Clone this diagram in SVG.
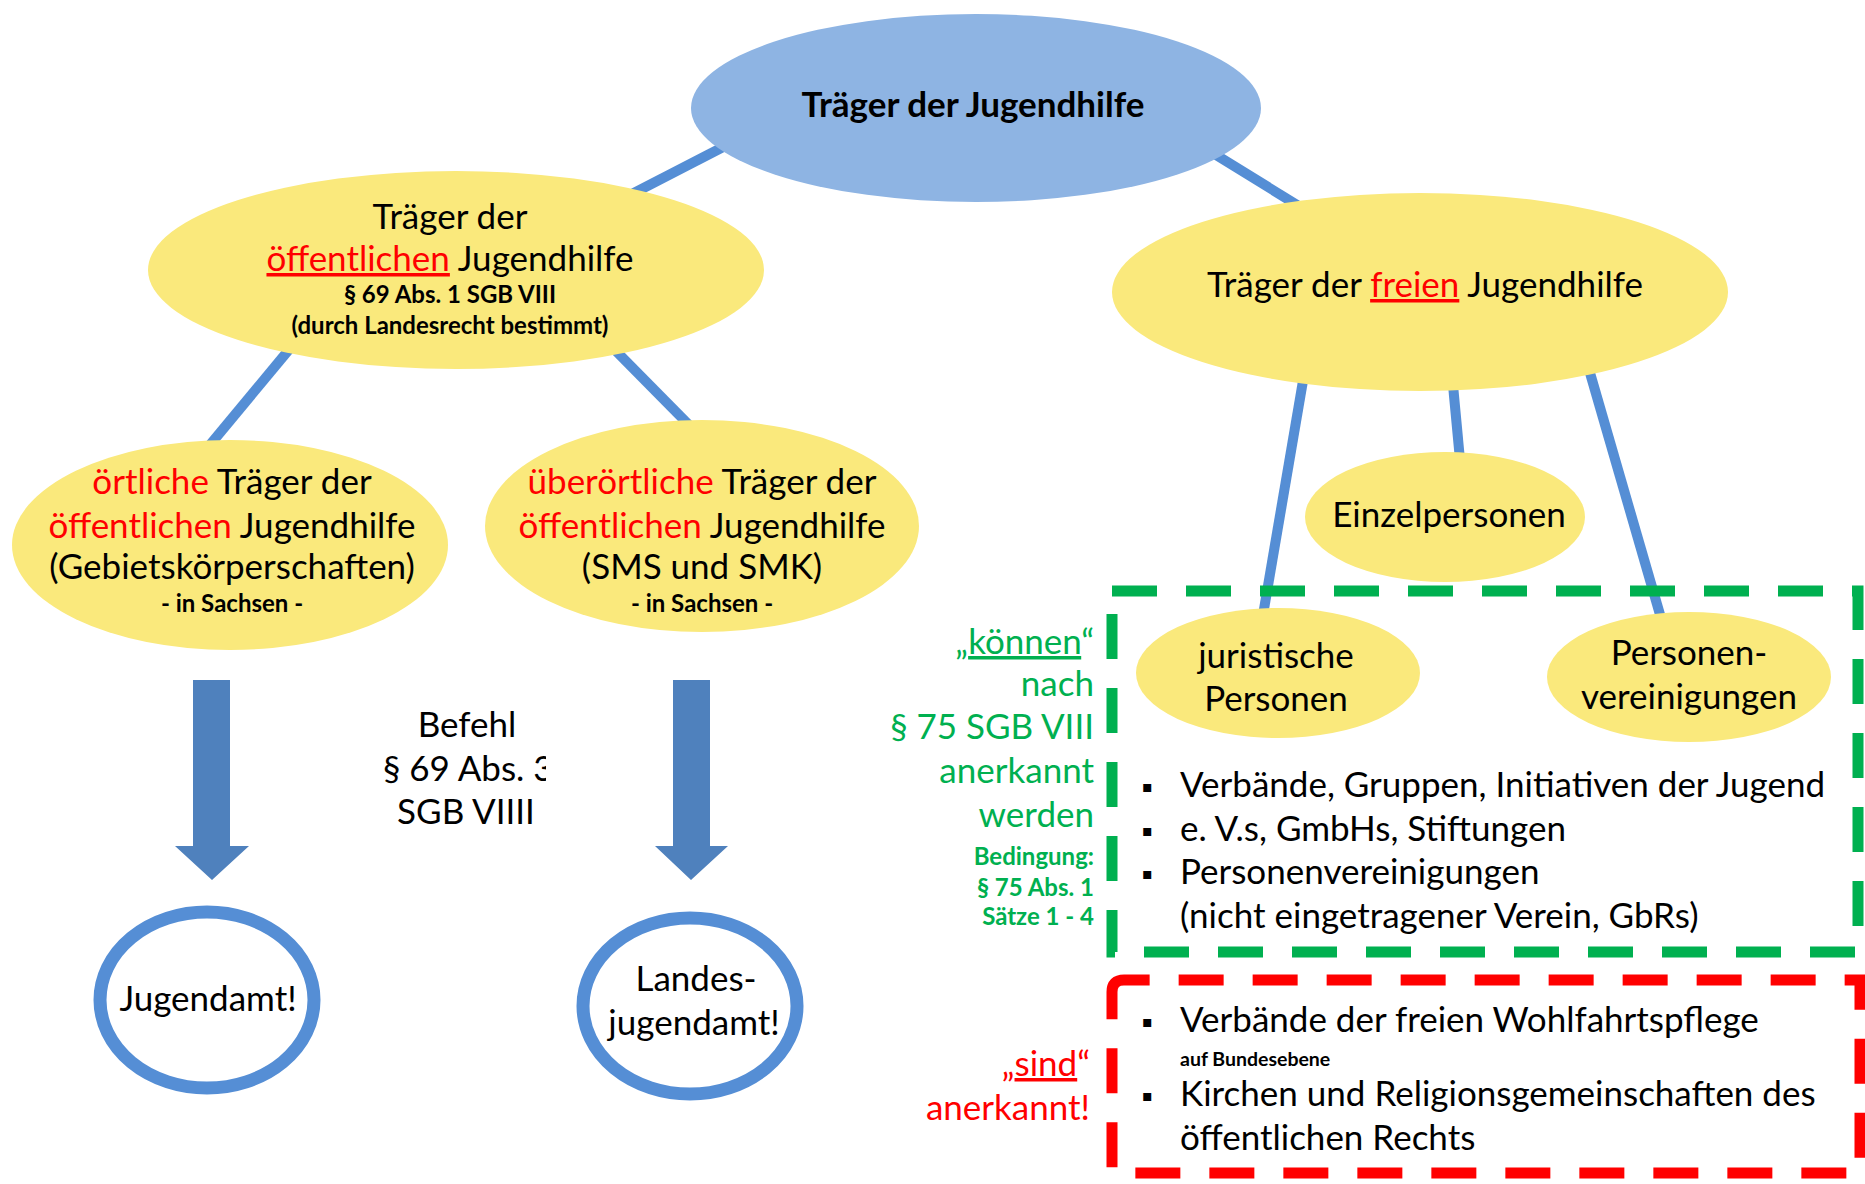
<svg xmlns="http://www.w3.org/2000/svg" width="1865" height="1184" viewBox="0 0 1865 1184">
<style>
text{font-family:Lato,"Liberation Sans",sans-serif;font-size:35px;fill:#000}
.c{text-anchor:middle}
.e{text-anchor:end}
.b{font-weight:bold}
.s{font-size:24px;font-weight:bold}
.r{fill:#FF0000}
.g{fill:#00B050}
.u{text-decoration:underline;text-decoration-thickness:4px}
.bul{font-family:"DejaVu Sans",sans-serif;font-size:16px}
.yel{fill:#FAE97C}
.con{stroke:#558ED5;stroke-width:10;fill:none}
.ring{fill:#FFFFFF;stroke:#558ED5;stroke-width:13}
.arrow{fill:#4F81BD}
.box{fill:none;stroke-width:11;stroke-dasharray:45 29}
</style>
<defs>
<clipPath id="clip3"><rect x="0" y="740" width="546" height="60"/></clipPath>
</defs>
<rect width="1865" height="1184" fill="#FFFFFF"/>

<g id="connectors">
<line class="con" x1="727" y1="145" x2="630" y2="195"/>
<line class="con" x1="1208" y1="150" x2="1302" y2="208"/>
<line class="con" x1="292" y1="346" x2="209" y2="446"/>
<line class="con" x1="612" y1="347" x2="692" y2="428"/>
<line class="con" x1="1304" y1="375" x2="1263" y2="615"/>
<line class="con" x1="1453" y1="385" x2="1460" y2="460"/>
<line class="con" x1="1588" y1="366" x2="1661" y2="618"/>
<polygon class="arrow" points="193,680 230,680 230,846 249,846 212,880 175,846 193,846"/>
<polygon class="arrow" points="673,680 710,680 710,846 728,846 691,880 655,846 673,846"/>
</g>

<g id="root">
<ellipse cx="976" cy="108" rx="285" ry="94" fill="#8EB4E3"/>
<text class="c b" x="973" y="117">Träger der Jugendhilfe</text>
</g>

<g id="oeffentlich">
<ellipse class="yel" cx="456" cy="270" rx="308" ry="99"/>
<text class="c" x="450" y="229">Träger der</text>
<text class="c" x="450" y="271"><tspan class="r u">öffentlichen</tspan> Jugendhilfe</text>
<text class="c s" x="450" y="303">§ 69 Abs. 1 SGB VIII</text>
<text class="c s" x="450" y="334">(durch Landesrecht bestimmt)</text>
</g>

<g id="frei">
<ellipse class="yel" cx="1420" cy="292" rx="308" ry="99"/>
<text class="c" x="1425" y="297">Träger der <tspan class="r u">freien</tspan> Jugendhilfe</text>
</g>

<g id="oertlich">
<ellipse class="yel" cx="230" cy="545" rx="218" ry="105"/>
<text class="c" x="232" y="494"><tspan class="r">örtliche</tspan> Träger der</text>
<text class="c" x="232" y="538"><tspan class="r">öffentlichen</tspan> Jugendhilfe</text>
<text class="c" x="232" y="579">(Gebietskörperschaften)</text>
<text class="c s" x="232" y="612">- in Sachsen -</text>
</g>

<g id="ueberoertlich">
<ellipse class="yel" cx="702" cy="526" rx="217" ry="106"/>
<text class="c" x="702" y="494"><tspan class="r">überörtliche</tspan> Träger der</text>
<text class="c" x="702" y="538"><tspan class="r">öffentlichen</tspan> Jugendhilfe</text>
<text class="c" x="702" y="579">(SMS und SMK)</text>
<text class="c s" x="702" y="612">- in Sachsen -</text>
</g>

<g id="einzelpersonen">
<ellipse class="yel" cx="1445" cy="517" rx="140" ry="65"/>
<text class="c" x="1449" y="527">Einzelpersonen</text>
</g>

<g id="juristische">
<ellipse class="yel" cx="1278" cy="673" rx="142" ry="65"/>
<text class="c" x="1276" y="668">juristische</text>
<text class="c" x="1276" y="711">Personen</text>
</g>

<g id="personenvereinigungen">
<ellipse class="yel" cx="1689" cy="677" rx="142" ry="65"/>
<text class="c" x="1689" y="665">Personen-</text>
<text class="c" x="1689" y="709">vereinigungen</text>
</g>

<g id="befehl">
<text class="c" x="467" y="737">Befehl</text>
<text x="383" y="781" clip-path="url(#clip3)">§ 69 Abs. 3</text>
<text class="c" x="466" y="824">SGB VIIII</text>
</g>

<g id="jugendamt">
<ellipse class="ring" cx="207" cy="1000" rx="107" ry="88"/>
<text class="c" x="208" y="1011">Jugendamt!</text>
</g>

<g id="landesjugendamt">
<ellipse class="ring" cx="690" cy="1006" rx="107" ry="88"/>
<text class="c" x="696" y="991">Landes-</text>
<text class="c" x="694" y="1035">jugendamt!</text>
</g>

<g id="koennen-box">
<path class="box" stroke="#00B050" d="M1112,591 H1858 V952 H1112 Z"/>
<text class="e g" x="1094" y="654">„<tspan class="u">können</tspan>“</text>
<text class="e g" x="1094" y="696">nach</text>
<text class="e g" x="1094" y="739">§ 75 SGB VIII</text>
<text class="e g" x="1094" y="783">anerkannt</text>
<text class="e g" x="1094" y="827">werden</text>
<text class="e g s" x="1094" y="865">Bedingung:</text>
<text class="e g s" x="1094" y="896">§ 75 Abs. 1</text>
<text class="e g s" x="1094" y="925">Sätze 1 - 4</text>
<text class="bul" x="1142" y="792">▪</text>
<text x="1180" y="797">Verbände, Gruppen, Initiativen der Jugend</text>
<text class="bul" x="1142" y="836">▪</text>
<text x="1180" y="841">e. V.s, GmbHs, Stiftungen</text>
<text class="bul" x="1142" y="879">▪</text>
<text x="1180" y="884">Personenvereinigungen</text>
<text x="1180" y="928">(nicht eingetragener Verein, GbRs)</text>
</g>

<g id="sind-box">
<path class="box" stroke="#FF0000" d="M1112,992 Q1112,980 1124,980 H1860 V1173 H1112 Z"/>
<text class="e r" x="1090" y="1076">„<tspan class="u">sind</tspan>“</text>
<text class="e r" x="1090" y="1120">anerkannt!</text>
<text class="bul" x="1142" y="1027">▪</text>
<text x="1180" y="1032">Verbände der freien Wohlfahrtspflege</text>
<text class="s" x="1180" y="1066" style="font-size:19.5px">auf Bundesebene</text>
<text class="bul" x="1142" y="1101">▪</text>
<text x="1180" y="1106">Kirchen und Religionsgemeinschaften des</text>
<text x="1180" y="1150">öffentlichen Rechts</text>
</g>
</svg>
